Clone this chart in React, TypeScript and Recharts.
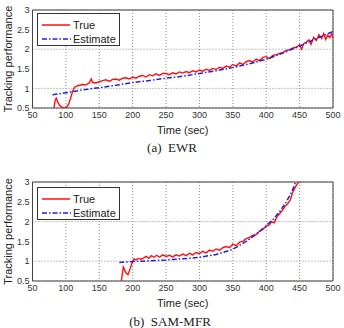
import React from 'react';
import { LineChart, Line, XAxis, YAxis, CartesianGrid, ReferenceArea } from 'recharts';

const xTicks = [50, 100, 150, 200, 250, 300, 350, 400, 450, 500];
const yTicks = [0.5, 1, 1.5, 2, 2.5, 3];

// (a) EWR — [time, value]
const ewrTrue: number[][] = [
  [82, 0.5], [84, 0.7], [85.5, 0.75], [88, 0.65], [90, 0.58], [93, 0.53], [97, 0.5], [101, 0.52],
  [104, 0.6], [107, 0.75], [110, 0.92], [113, 1.03], [116, 1.06], [120, 1.08], [125, 1.1], [130, 1.09],
  [135, 1.14], [138, 1.24], [140, 1.15], [145, 1.14], [150, 1.17], [155, 1.2], [160, 1.22], [165, 1.18],
  [170, 1.23], [175, 1.24], [180, 1.21], [185, 1.26], [190, 1.27], [195, 1.24], [200, 1.29], [205, 1.26],
  [210, 1.31], [215, 1.33], [220, 1.29], [225, 1.35], [230, 1.32], [235, 1.37], [240, 1.33], [245, 1.38],
  [250, 1.38], [255, 1.35], [260, 1.4], [265, 1.37], [270, 1.42], [275, 1.39], [280, 1.43], [285, 1.4],
  [290, 1.45], [295, 1.42], [300, 1.47], [305, 1.44], [310, 1.49], [315, 1.46], [320, 1.51], [325, 1.48],
  [330, 1.54], [335, 1.51], [340, 1.57], [345, 1.54], [350, 1.61], [355, 1.57], [360, 1.65], [365, 1.61],
  [370, 1.68], [375, 1.71], [380, 1.67], [385, 1.75], [390, 1.71], [395, 1.79], [400, 1.81], [405, 1.76],
  [410, 1.84], [415, 1.86], [420, 1.89], [425, 1.92], [430, 1.97], [435, 1.99], [440, 2.03], [445, 2.05],
  [450, 2.11], [453, 2.0], [456, 2.14], [460, 2.18], [464, 2.24], [467, 2.12], [471, 2.3], [475, 2.22],
  [479, 2.37], [483, 2.27], [486, 2.4], [489, 2.25], [492, 2.36], [495, 2.3], [498, 2.39], [500, 2.28],
];
const ewrEstimate: number[][] = [
  [80, 0.84], [100, 0.89], [125, 0.96], [150, 1.02], [175, 1.08], [200, 1.15], [225, 1.2], [250, 1.26],
  [275, 1.31], [300, 1.38], [325, 1.45], [350, 1.53], [375, 1.63], [400, 1.74], [425, 1.9], [450, 2.08],
  [475, 2.27], [500, 2.45],
];

// (b) SAM-MFR — [time, value]
const samTrue: number[][] = [
  [183, 0.5], [186, 0.85], [188, 0.78], [190, 0.7], [193, 0.66], [196, 0.8], [199, 0.95], [202, 1.06],
  [205, 1.03], [208, 1.07], [212, 1.05], [216, 1.08], [220, 1.12], [224, 1.07], [228, 1.14], [232, 1.1],
  [236, 1.15], [240, 1.1], [245, 1.16], [250, 1.12], [255, 1.15], [260, 1.11], [265, 1.16], [270, 1.13],
  [275, 1.18], [280, 1.14], [285, 1.2], [290, 1.16], [295, 1.22], [300, 1.19], [305, 1.25], [310, 1.21],
  [315, 1.28], [320, 1.25], [325, 1.31], [330, 1.28], [335, 1.34], [340, 1.37], [345, 1.34], [350, 1.43],
  [355, 1.39], [360, 1.48], [365, 1.5], [370, 1.57], [375, 1.6], [380, 1.66], [385, 1.67], [390, 1.76],
  [395, 1.8], [400, 1.88], [405, 1.92], [408, 2.0], [412, 1.97], [416, 2.12], [420, 2.2], [424, 2.28],
  [428, 2.38], [432, 2.45], [436, 2.55], [440, 2.75], [443, 2.85], [447, 2.97], [451, 3.0], [454, 3.05],
];
const samEstimate: number[][] = [
  [180, 0.97], [200, 0.99], [225, 1.01], [250, 1.03], [275, 1.06], [300, 1.1], [325, 1.17], [350, 1.3],
  [370, 1.5], [385, 1.68], [400, 1.9], [410, 2.05], [420, 2.25], [430, 2.5], [435, 2.65], [440, 2.82],
  [445, 3.05],
];

const toRows = (pairs: number[][]) => pairs.map(([t, v]) => ({ t, v }));

const FONT = '"Liberation Sans", Arial, sans-serif';
const RED = '#ff1010';
const BLUE = '#2020e0';

type PanelProps = {
  trueData: number[][];
  estData: number[][];
  marginTop: number;
  xAxisHeight: number;
  xLabelOffset: number;
  legendTop: number;
};

const LegendBox = ({ top }: { top: number }) => (
  <div
    style={{
      position: 'absolute',
      left: 37,
      top,
      width: 83,
      height: 33,
      boxSizing: 'border-box',
      border: '1px solid #333',
      background: '#fff',
    }}
  >
    <svg width={83} height={33} style={{ position: 'absolute', left: -1, top: -1 }}>
      <line x1={5} y1={12} x2={33} y2={12} stroke={RED} strokeWidth={1.5} />
      <line x1={5} y1={26} x2={34} y2={26} stroke={BLUE} strokeWidth={1.5} strokeDasharray="5 2 1.5 2" />
      <text x={36} y={16} fontFamily={FONT} fontSize={11} fill="#222">True</text>
      <text x={36} y={30} fontFamily={FONT} fontSize={11} fill="#222">Estimate</text>
    </svg>
  </div>
);

const Panel = ({ trueData, estData, marginTop, xAxisHeight, xLabelOffset, legendTop }: PanelProps) => (
  <div style={{ position: 'relative', width: 344, height: 164 }}>
    <LineChart width={344} height={164} margin={{ top: marginTop, right: 11, bottom: 0, left: 0 }}>
      <CartesianGrid stroke="#888" strokeDasharray="1 2" />
      <XAxis
        type="number"
        dataKey="t"
        domain={[50, 500]}
        ticks={xTicks}
        allowDataOverflow
        axisLine={false}
        tickLine={false}
        tickSize={0}
        tickMargin={4}
        height={xAxisHeight}
        tick={{ fontSize: 9, fill: '#333', fontFamily: FONT }}
        label={{ value: 'Time (sec)', position: 'insideBottom', offset: xLabelOffset, fontSize: 11, fill: '#222', fontFamily: FONT }}
      />
      <YAxis
        type="number"
        domain={[0.5, 3]}
        ticks={yTicks}
        allowDataOverflow
        axisLine={false}
        tickLine={false}
        tickSize={0}
        tickMargin={3}
        width={32.5}
        tick={{ fontSize: 9, fill: '#333', fontFamily: FONT }}
        label={{
          value: 'Tracking performance',
          angle: -90,
          position: 'insideLeft',
          offset: 8,
          fontSize: 11,
          fill: '#222',
          fontFamily: FONT,
          style: { textAnchor: 'middle' },
        }}
      />
      <ReferenceArea x1={50} x2={500} y1={0.5} y2={3} fill="none" fillOpacity={0} stroke="#444" strokeWidth={1} />
      <Line
        data={toRows(trueData)}
        dataKey="v"
        type="linear"
        stroke={RED}
        strokeWidth={1.4}
        dot={false}
        isAnimationActive={false}
      />
      <Line
        data={toRows(estData)}
        dataKey="v"
        type="linear"
        stroke={BLUE}
        strokeWidth={1.5}
        strokeDasharray="5 2 1.5 2"
        dot={false}
        isAnimationActive={false}
      />
    </LineChart>
    <LegendBox top={legendTop} />
  </div>
);

export default function App() {
  return (
    <div style={{ position: 'absolute', left: 0, top: 0, width: 344, height: 328, background: '#fff' }}>
      <div style={{ position: 'absolute', left: 0, top: 0 }}>
        <Panel trueData={ewrTrue} estData={ewrEstimate} marginTop={10} xAxisHeight={56} xLabelOffset={30.5} legendTop={13} />
      </div>
      <div style={{ position: 'absolute', left: 0, top: 164 }}>
        <Panel trueData={samTrue} estData={samEstimate} marginTop={18} xAxisHeight={47} xLabelOffset={21.5} legendTop={23} />
      </div>
      <svg width={344} height={328} style={{ position: 'absolute', left: 0, top: 0, pointerEvents: 'none' }}>
        <text x={172} y={152} textAnchor="middle" fontFamily='"Liberation Serif", "Times New Roman", serif' fontSize={13} fill="#222" style={{ whiteSpace: 'pre' }}>
          (a)  EWR
        </text>
        <text x={170} y={325.5} textAnchor="middle" fontFamily='"Liberation Serif", "Times New Roman", serif' fontSize={13} fill="#222" style={{ whiteSpace: 'pre' }}>
          (b)  SAM-MFR
        </text>
      </svg>
    </div>
  );
}
